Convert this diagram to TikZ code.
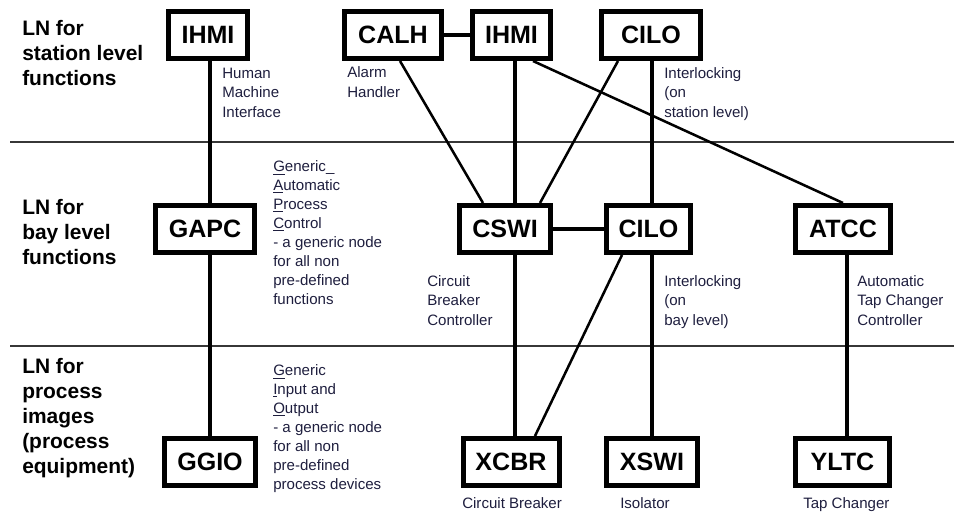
\documentclass[tikz,border=0pt]{standalone}
\usepackage{fontspec}
\setmainfont{Liberation Sans}
\usetikzlibrary{calc}
\definecolor{notecol}{RGB}{30,30,62}
\definecolor{sepcol}{RGB}{55,55,55}

\begin{document}
\begin{tikzpicture}[x=0.75pt,y=-0.75pt,
  lnbox/.style={draw=black, line width=3.75pt, fill=white, inner sep=0pt,
    minimum height=35.25pt, minimum width=#1*0.75pt,
    font=\fontsize{18.8}{22}\selectfont\bfseries},
  % multi-line texts are placed by the baseline of their last line
  levellabel/.style={anchor=base west, align=left, inner sep=0pt,
    font=\fontsize{15.7}{18.75}\selectfont\bfseries},
  note/.style={anchor=base west, align=left, inner sep=0pt, text=notecol,
    font=\fontsize{11.3}{14.5}\selectfont},
  densenote/.style={note, font=\fontsize{11.3}{14.15}\selectfont},
  sep/.style={line width=0.9pt, draw=sepcol},
  bus/.style={line width=3pt},
  link/.style={line width=1.9pt},
]
\useasboundingbox (0,0) rectangle (954,514);

% level separators
\draw[sep] (10,142) -- (954,142);
\draw[sep] (10,346) -- (954,346);

% level titles
\node[levellabel] (lvlstation) at (22,85) {LN for\\station level\\functions};
\node[levellabel] (lvlbay) at (22,264) {LN for\\bay level\\functions};
\node[levellabel] (lvlprocess) at (22,473) {LN for\\process\\images\\(process\\equipment)};

% logical nodes
\node[lnbox=79] (ihmiA) at (208,35) {IHMI};
\node[lnbox=97] (calh)  at (393,35) {CALH};
\node[lnbox=78] (ihmiB) at (511.5,35) {IHMI};
\node[lnbox=99] (ciloA) at (651,35) {CILO};

\node[lnbox=99] (gapc)  at (205,229) {GAPC};
\node[lnbox=91] (cswi)  at (505,229) {CSWI};
\node[lnbox=84] (ciloB) at (648.5,229) {CILO};
\node[lnbox=95] (atcc)  at (843,229) {ATCC};

\node[lnbox=91] (ggio)  at (210,462) {GGIO};
\node[lnbox=96] (xcbr)  at (511,462) {XCBR};
\node[lnbox=91] (xswi)  at (652,462) {XSWI};
\node[lnbox=94] (yltc)  at (842.5,462) {YLTC};

% vertical trunks
\coordinate (trunkA) at (210,0);
\coordinate (trunkB) at (515,0);
\coordinate (trunkC) at (652,0);
\coordinate (trunkD) at (847,0);

\draw[bus] (ihmiA.south -| trunkA) -- (gapc.north -| trunkA);
\draw[bus] (gapc.south -| trunkA) -- (ggio.north -| trunkA);
\draw[bus] (ihmiB.south -| trunkB) -- (cswi.north -| trunkB);
\draw[bus] (cswi.south -| trunkB) -- (xcbr.north -| trunkB);
\draw[bus] (ciloA.south -| trunkC) -- (ciloB.north -| trunkC);
\draw[bus] (ciloB.south -| trunkC) -- (xswi.north -| trunkC);
\draw[bus] (atcc.south -| trunkD) -- (yltc.north -| trunkD);

% horizontal links
\draw[bus] (calh.east) -- (ihmiB.west);
\draw[bus] (cswi.east) -- (ciloB.west);

% diagonal links
\draw[link] ($(calh.south)+(7,0)$) -- ($(cswi.north)+(-22,0)$);
\draw[link] ($(ciloA.south)+(-33,0)$) -- ($(cswi.north)+(35,0)$);
\draw[link] ($(ihmiB.south)+(21.5,0)$) -- (atcc.north);
\draw[link] ($(ciloB.south)+(-26.5,0)$) -- ($(xcbr.north)+(24,0)$);

% descriptions
\node[note] (dIHMI) at (222,117) {Human\\Machine\\Interface};
\node[note] (dCALH) at (347,97) {Alarm\\Handler};
\node[note] (dCILOA) at (664,117) {Interlocking\\(on\\station level)};
\node[densenote] (dGAPC) at (273,304) {\underline{G}eneric\_\\\underline{A}utomatic\\\underline{P}rocess\\\underline{C}ontrol\\- a generic node\\for all non\\pre-defined\\functions};
\node[note] (dCSWI) at (427,325) {Circuit\\Breaker\\Controller};
\node[note] (dCILOB) at (664,325) {Interlocking\\(on\\bay level)};
\node[note] (dATCC) at (857,325) {Automatic\\Tap Changer\\Controller};
\node[densenote] (dGGIO) at (273,489) {\underline{G}eneric\\\underline{I}nput and\\\underline{O}utput\\- a generic node\\for all non\\pre-defined\\process devices};
\node[note] (dXCBR) at (462,508) {Circuit Breaker};
\node[note] (dXSWI) at (620,508) {Isolator};
\node[note] (dYLTC) at (803,508) {Tap Changer};
\end{tikzpicture}
\end{document}
